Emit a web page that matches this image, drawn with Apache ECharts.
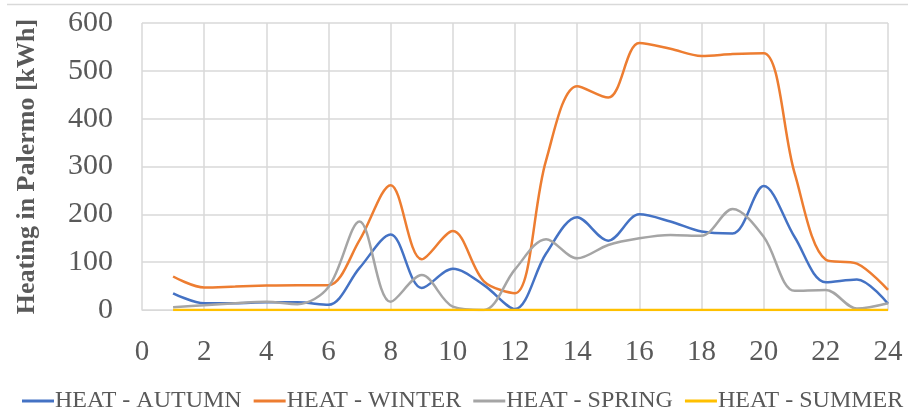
<!DOCTYPE html>
<html>
<head>
<meta charset="utf-8">
<script src="https://cdn.jsdelivr.net/npm/echarts@6/dist/echarts.min.js"></script>
<style>
  html, body { margin: 0; padding: 0; background: #fff; }
  #chart { width: 908px; height: 418px; }
</style>
</head>
<body>
<div id="chart"></div>
<script>
// Hourly heating demand in Palermo per season (kWh)
const hours = [1, 2, 3, 4, 5, 6, 7, 8, 9, 10, 11, 12, 13, 14, 15, 16, 17, 18, 19, 20, 21, 22, 23, 24];
const heatAutumn = [35, 14, 14, 16, 16, 11, 88, 158, 46, 86, 52, 2, 118, 194, 145, 200, 185, 164, 160, 259, 152, 58, 64, 13];
const heatWinter = [70, 47, 49, 51, 52, 52, 146, 261, 106, 165, 60, 35, 313, 468, 444, 558, 546, 531, 535, 537, 285, 105, 97, 42];
const heatSpring = [6, 10, 14, 17, 12, 48, 185, 17, 73, 7, 0, 85, 148, 108, 136, 150, 157, 155, 211, 153, 40, 42, 3, 14];
const heatSummer = [0, 0, 0, 0, 0, 0, 0, 0, 0, 0, 0, 0, 0, 0, 0, 0, 0, 0, 0, 0, 0, 0, 0, 0];
const seriesNames = ['HEAT - AUTUMN', 'HEAT - WINTER', 'HEAT - SPRING', 'HEAT - SUMMER'];
const seriesColors = ['#4472C4', '#ED7D31', '#A5A5A5', '#FFC000'];
const yAxisTitle = 'Heating in Palermo [kWh]';

const serif = "'Liberation Serif', 'Times New Roman', serif";
const textGrey = '#595959';
const gridGrey = '#d9d9d9';

const pairs = (ys) => hours.map((h, i) => [h, ys[i]]);
const allValues = [heatAutumn, heatWinter, heatSpring, heatSummer];

const chart = echarts.init(document.getElementById('chart'), null, { renderer: 'canvas' });
chart.setOption({
  animation: false,
  backgroundColor: '#ffffff',
  grid: { left: 142, right: 20, top: 23, bottom: 108, containLabel: false },
  xAxis: {
    type: 'value',
    min: 0,
    max: 24,
    interval: 2,
    axisLine: { show: true, lineStyle: { color: gridGrey, width: 1 } },
    axisTick: { show: false },
    axisLabel: { color: textGrey, fontFamily: serif, fontSize: 29, margin: 28 },
    splitLine: { show: true, lineStyle: { color: gridGrey, width: 1.5 } }
  },
  yAxis: {
    type: 'value',
    min: 0,
    max: 600,
    interval: 100,
    name: yAxisTitle,
    nameLocation: 'middle',
    nameGap: 102,
    nameTextStyle: { color: textGrey, fontFamily: serif, fontSize: 26, fontWeight: 'bold' },
    axisLine: { show: false },
    axisTick: { show: false },
    axisLabel: { color: textGrey, fontFamily: serif, fontSize: 30, margin: 29 },
    splitLine: { show: true, lineStyle: { color: gridGrey, width: 1.5 } }
  },
  legend: {
    data: seriesNames,
    left: 22,
    top: 389,
    padding: 0,
    width: 890,
    icon: 'rect',
    itemWidth: 32,
    itemHeight: 3,
    itemGap: 12,
    textStyle: { color: textGrey, fontFamily: serif, fontSize: 24, padding: [0, 0, 0, -4] }
  },
  graphic: [{
    type: 'line',
    shape: { x1: 7, y1: 4.5, x2: 908, y2: 4.5 },
    style: { stroke: gridGrey, lineWidth: 1.5 },
    silent: true
  }],
  series: seriesNames.map((name, i) => ({
    name: name,
    type: 'line',
    data: pairs(allValues[i]),
    smooth: 0.33,
    symbol: 'none',
    clip: true,
    lineStyle: { color: seriesColors[i], width: 2.5 },
    itemStyle: { color: seriesColors[i] }
  }))
});
</script>
</body>
</html>
